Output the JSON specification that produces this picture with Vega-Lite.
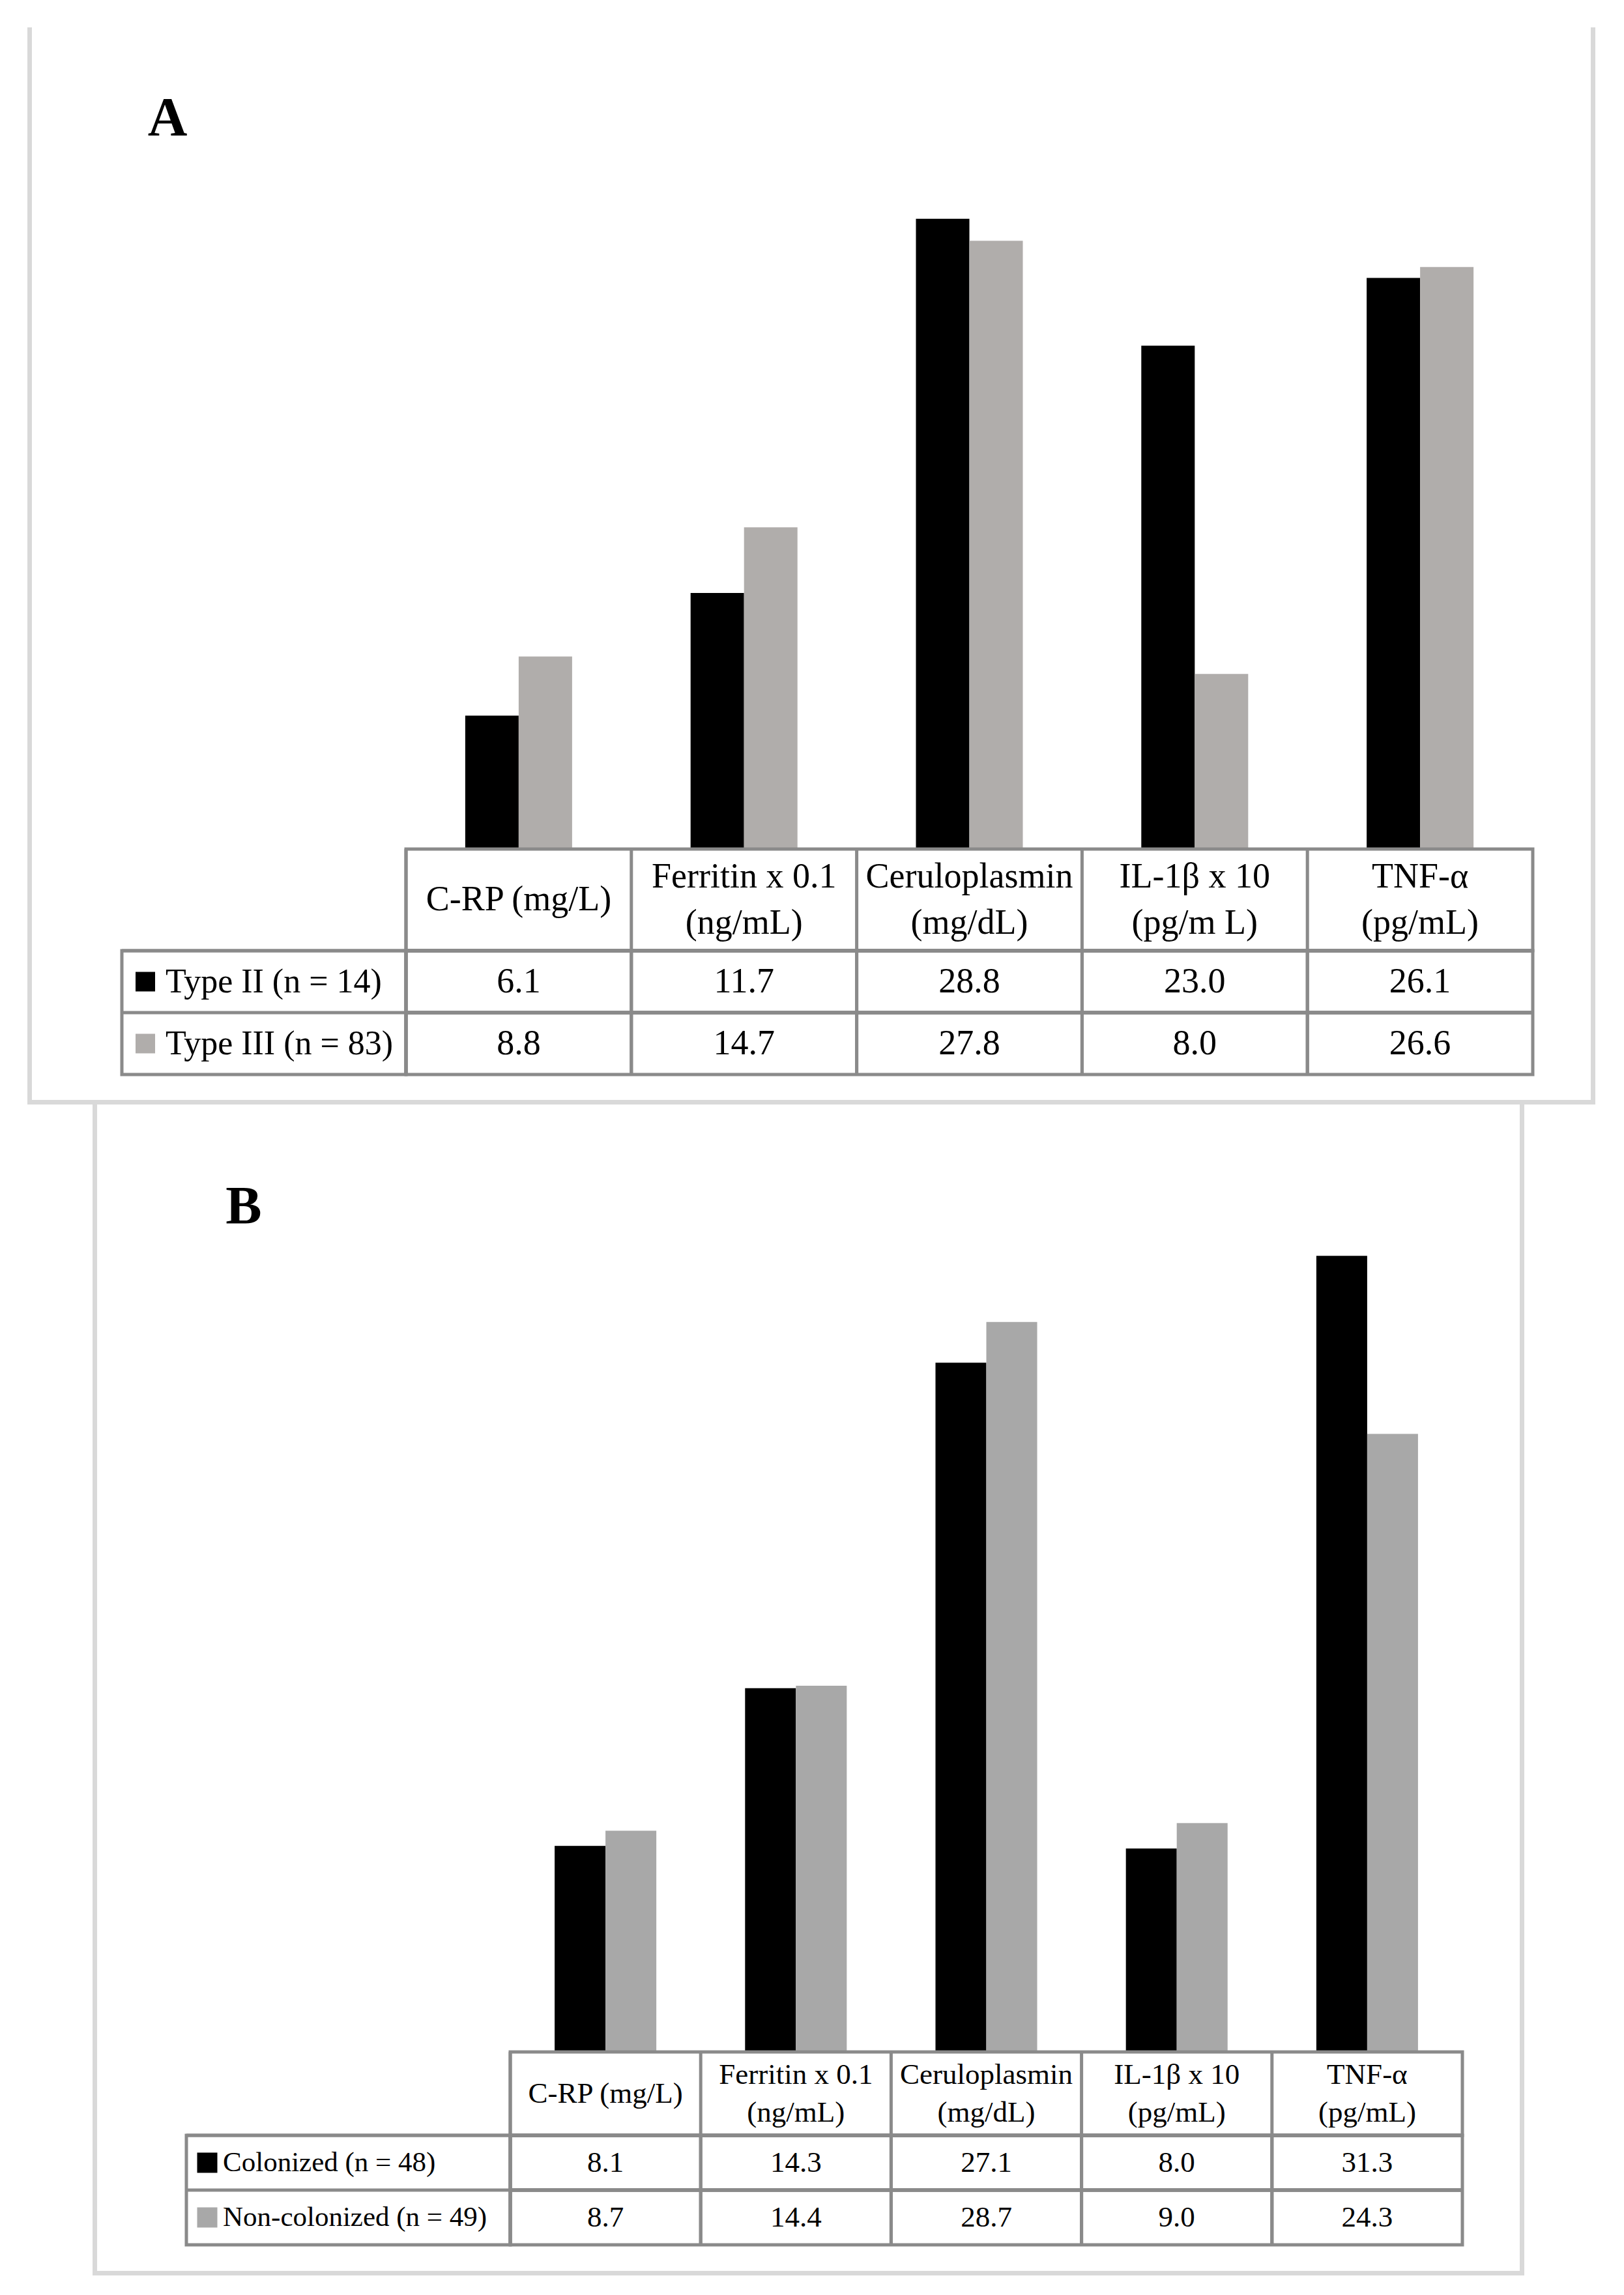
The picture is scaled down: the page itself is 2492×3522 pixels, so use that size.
{
  "$schema": "https://vega.github.io/schema/vega-lite/v6.json",
  "padding": {"left": 42, "top": 42, "right": 0, "bottom": 0},
  "background": "white",
  "config": {"view": {"stroke": null}, "font": "Liberation Serif", "concat": {"spacing": 0}},
  "datasets": {
    "A": [
      {"param": "C-RP (mg/L)", "group": "Type II (n = 14)", "value": 6.1},
      {"param": "C-RP (mg/L)", "group": "Type III (n = 83)", "value": 8.8},
      {"param": "Ferritin x 0.1\n(ng/mL)", "group": "Type II (n = 14)", "value": 11.7},
      {"param": "Ferritin x 0.1\n(ng/mL)", "group": "Type III (n = 83)", "value": 14.7},
      {"param": "Ceruloplasmin\n(mg/dL)", "group": "Type II (n = 14)", "value": 28.8},
      {"param": "Ceruloplasmin\n(mg/dL)", "group": "Type III (n = 83)", "value": 27.8},
      {"param": "IL-1β x 10\n(pg/m L)", "group": "Type II (n = 14)", "value": 23.0},
      {"param": "IL-1β x 10\n(pg/m L)", "group": "Type III (n = 83)", "value": 8.0},
      {"param": "TNF-α\n(pg/mL)", "group": "Type II (n = 14)", "value": 26.1},
      {"param": "TNF-α\n(pg/mL)", "group": "Type III (n = 83)", "value": 26.6}
    ],
    "B": [
      {"param": "C-RP (mg/L)", "group": "Colonized (n = 48)", "value": 8.1},
      {"param": "C-RP (mg/L)", "group": "Non-colonized (n = 49)", "value": 8.7},
      {"param": "Ferritin x 0.1\n(ng/mL)", "group": "Colonized (n = 48)", "value": 14.3},
      {"param": "Ferritin x 0.1\n(ng/mL)", "group": "Non-colonized (n = 49)", "value": 14.4},
      {"param": "Ceruloplasmin\n(mg/dL)", "group": "Colonized (n = 48)", "value": 27.1},
      {"param": "Ceruloplasmin\n(mg/dL)", "group": "Non-colonized (n = 49)", "value": 28.7},
      {"param": "IL-1β x 10\n(pg/mL)", "group": "Colonized (n = 48)", "value": 8.0},
      {"param": "IL-1β x 10\n(pg/mL)", "group": "Non-colonized (n = 49)", "value": 9.0},
      {"param": "TNF-α\n(pg/mL)", "group": "Colonized (n = 48)", "value": 31.3},
      {"param": "TNF-α\n(pg/mL)", "group": "Non-colonized (n = 49)", "value": 24.3}
    ]
  },
  "spacing": 0,
  "resolve": {"scale": {"color": "independent", "xOffset": "independent"}},
  "vconcat": [
    {
      "columns": 6, "spacing": 0, "bounds": "flush",
      "resolve": {"scale": {"color": "independent", "xOffset": "independent"}},
      "concat": [
        {"width": 7, "height": 1261, "data": {"values": []}, "mark": "point", "view": {"fill": "#d9d9d9", "stroke": null}},
        {"width": 138, "height": 1261, "data": {"values": []}, "mark": "point", "view": {"fill": "white", "stroke": null}},
        {"width": 140, "height": 332, "data": {"values": [{}]}, "mark": {"type": "text", "text": "A", "fontSize": 84, "fontWeight": "bold", "align": "center", "baseline": "alphabetic", "color": "#000000"}},
        {
          "width": 1729, "height": 1261,
          "data": {"name": "A"},
          "mark": {"type": "bar"},
          "encoding": {
            "x": {"field": "param", "type": "nominal", "sort": null, "axis": null, "scale": {"domain": ["C-RP (mg/L)", "Ferritin x 0.1\n(ng/mL)", "Ceruloplasmin\n(mg/dL)", "IL-1β x 10\n(pg/m L)", "TNF-α\n(pg/mL)"], "paddingInner": 0.5257, "paddingOuter": 0.2628}},
            "xOffset": {"field": "group", "type": "nominal", "scale": {"domain": ["Type II (n = 14)", "Type III (n = 83)"], "paddingInner": 0, "paddingOuter": 0}},
            "y": {"field": "value", "type": "quantitative", "axis": null, "scale": {"domain": [0, 37.55], "nice": false, "zero": true}},
            "color": {"field": "group", "type": "nominal", "legend": null, "scale": {"domain": ["Type II (n = 14)", "Type III (n = 83)"], "range": ["#000000", "#b0adab"]}}
          }
        },
        {"width": 89, "height": 1261, "data": {"values": []}, "mark": "point"},
        {"width": 7, "height": 1261, "data": {"values": []}, "mark": "point", "view": {"fill": "#d9d9d9", "stroke": null}},

        {"width": 7, "height": 156, "data": {"values": []}, "mark": "point", "view": {"fill": "#d9d9d9", "stroke": null}},
        {"width": 1, "height": 1, "data": {"values": []}, "mark": "point"},
        {"width": 436, "height": 156, "data": {"values": []}, "mark": "point"},
        {
          "width": 1729, "height": 156,
          "data": {"name": "A"},
          "transform": [{"filter": "datum.group === 'Type II (n = 14)'"}],
          "view": {"stroke": "#8a8a8a", "strokeWidth": 5},
          "layer": [
            {"mark": {"type": "rule", "color": "#8a8a8a", "strokeWidth": 5},
             "encoding": {"x": {"field": "param", "type": "nominal", "bandPosition": 0, "axis": null, "scale": {"type": "band", "domain": ["C-RP (mg/L)", "Ferritin x 0.1\n(ng/mL)", "Ceruloplasmin\n(mg/dL)", "IL-1β x 10\n(pg/m L)", "TNF-α\n(pg/mL)"], "paddingInner": 0, "paddingOuter": 0}}}},
            {"transform": [{"filter": "datum.param !== 'C-RP (mg/L)'"}],
             "mark": {"type": "text", "align": "center", "baseline": "middle", "fontSize": 54, "lineBreak": "\n", "lineHeight": 71, "dy": -35.5, "color": "#000000"},
             "encoding": {
               "x": {"field": "param", "type": "nominal", "axis": null, "scale": {"type": "band", "domain": ["C-RP (mg/L)", "Ferritin x 0.1\n(ng/mL)", "Ceruloplasmin\n(mg/dL)", "IL-1β x 10\n(pg/m L)", "TNF-α\n(pg/mL)"], "paddingInner": 0, "paddingOuter": 0}},
               "text": {"field": "param", "type": "nominal"}
             }},
            {"transform": [{"filter": "datum.param === 'C-RP (mg/L)'"}],
             "mark": {"type": "text", "align": "center", "baseline": "middle", "fontSize": 54, "color": "#000000"},
             "encoding": {
               "x": {"field": "param", "type": "nominal", "axis": null, "scale": {"type": "band", "domain": ["C-RP (mg/L)", "Ferritin x 0.1\n(ng/mL)", "Ceruloplasmin\n(mg/dL)", "IL-1β x 10\n(pg/m L)", "TNF-α\n(pg/mL)"], "paddingInner": 0, "paddingOuter": 0}},
               "text": {"field": "param", "type": "nominal"}
             }}
          ]
        },
        {"width": 1, "height": 1, "data": {"values": []}, "mark": "point"},
        {"width": 7, "height": 156, "data": {"values": []}, "mark": "point", "view": {"fill": "#d9d9d9", "stroke": null}},

        {"width": 7, "height": 190, "data": {"values": []}, "mark": "point", "view": {"fill": "#d9d9d9", "stroke": null}},
        {"width": 1, "height": 1, "data": {"values": []}, "mark": "point"},
        {
          "width": 436, "height": 190,
          "data": {"name": "A"},
          "transform": [{"filter": "datum.param === 'C-RP (mg/L)'"}],
          "view": {"stroke": "#8a8a8a", "strokeWidth": 5},
          "layer": [
            {"mark": {"type": "rule", "color": "#8a8a8a", "strokeWidth": 5},
             "encoding": {"y": {"field": "group", "type": "nominal", "bandPosition": 0, "axis": null, "scale": {"type": "band", "domain": ["Type II (n = 14)", "Type III (n = 83)"], "paddingInner": 0, "paddingOuter": 0}}}},
            {"mark": {"type": "point", "shape": "square", "size": 900, "filled": true, "opacity": 1},
             "encoding": {
               "x": {"datum": "label", "type": "nominal", "bandPosition": 0.0826, "axis": null, "scale": {"type": "band", "domain": ["label"], "paddingInner": 0, "paddingOuter": 0}},
               "y": {"field": "group", "type": "nominal", "axis": null, "scale": {"type": "band", "domain": ["Type II (n = 14)", "Type III (n = 83)"], "paddingInner": 0, "paddingOuter": 0}},
               "color": {"field": "group", "type": "nominal", "legend": null, "scale": {"domain": ["Type II (n = 14)", "Type III (n = 83)"], "range": ["#000000", "#b0adab"]}}
             }},
            {"mark": {"type": "text", "align": "left", "baseline": "middle", "fontSize": 52, "color": "#000000"},
             "encoding": {
               "x": {"datum": "label", "type": "nominal", "bandPosition": 0.1537, "axis": null, "scale": {"type": "band", "domain": ["label"], "paddingInner": 0, "paddingOuter": 0}},
               "y": {"field": "group", "type": "nominal", "axis": null, "scale": {"type": "band", "domain": ["Type II (n = 14)", "Type III (n = 83)"], "paddingInner": 0, "paddingOuter": 0}},
               "text": {"field": "group", "type": "nominal"}
             }}
          ]
        },
        {
          "width": 1729, "height": 190,
          "data": {"name": "A"},
          "view": {"stroke": "#8a8a8a", "strokeWidth": 5},
          "layer": [
            {"mark": {"type": "rule", "color": "#8a8a8a", "strokeWidth": 5},
             "encoding": {"x": {"field": "param", "type": "nominal", "bandPosition": 0, "axis": null, "scale": {"type": "band", "domain": ["C-RP (mg/L)", "Ferritin x 0.1\n(ng/mL)", "Ceruloplasmin\n(mg/dL)", "IL-1β x 10\n(pg/m L)", "TNF-α\n(pg/mL)"], "paddingInner": 0, "paddingOuter": 0}}}},
            {"mark": {"type": "rule", "color": "#8a8a8a", "strokeWidth": 5},
             "encoding": {"y": {"field": "group", "type": "nominal", "bandPosition": 0, "axis": null, "scale": {"type": "band", "domain": ["Type II (n = 14)", "Type III (n = 83)"], "paddingInner": 0, "paddingOuter": 0}}}},
            {"mark": {"type": "text", "align": "center", "baseline": "middle", "fontSize": 54, "color": "#000000"},
             "encoding": {
               "x": {"field": "param", "type": "nominal", "axis": null, "scale": {"type": "band", "domain": ["C-RP (mg/L)", "Ferritin x 0.1\n(ng/mL)", "Ceruloplasmin\n(mg/dL)", "IL-1β x 10\n(pg/m L)", "TNF-α\n(pg/mL)"], "paddingInner": 0, "paddingOuter": 0}},
               "y": {"field": "group", "type": "nominal", "axis": null, "scale": {"type": "band", "domain": ["Type II (n = 14)", "Type III (n = 83)"], "paddingInner": 0, "paddingOuter": 0}},
               "text": {"field": "value", "type": "quantitative", "format": ".1f"}
             }}
          ]
        },
        {"width": 1, "height": 1, "data": {"values": []}, "mark": "point"},
        {"width": 7, "height": 190, "data": {"values": []}, "mark": "point", "view": {"fill": "#d9d9d9", "stroke": null}},

        {"width": 7, "height": 39, "data": {"values": []}, "mark": "point", "view": {"fill": "#d9d9d9", "stroke": null}},
        {"width": 1, "height": 1, "data": {"values": []}, "mark": "point"},
        {"width": 1, "height": 1, "data": {"values": []}, "mark": "point"},
        {"width": 1, "height": 1, "data": {"values": []}, "mark": "point"},
        {"width": 1, "height": 1, "data": {"values": []}, "mark": "point"},
        {"width": 7, "height": 39, "data": {"values": []}, "mark": "point", "view": {"fill": "#d9d9d9", "stroke": null}},

        {"width": 7, "height": 7, "data": {"values": []}, "mark": "point", "view": {"fill": "#d9d9d9", "stroke": null}},
        {"width": 138, "height": 7, "data": {"values": []}, "mark": "point", "view": {"fill": "#d9d9d9", "stroke": null}},
        {"width": 436, "height": 7, "data": {"values": []}, "mark": "point", "view": {"fill": "#d9d9d9", "stroke": null}},
        {"width": 1729, "height": 7, "data": {"values": []}, "mark": "point", "view": {"fill": "#d9d9d9", "stroke": null}},
        {"width": 89, "height": 7, "data": {"values": []}, "mark": "point", "view": {"fill": "#d9d9d9", "stroke": null}},
        {"width": 7, "height": 7, "data": {"values": []}, "mark": "point", "view": {"fill": "#d9d9d9", "stroke": null}}
      ]
    },
    {
      "columns": 7, "spacing": 0, "bounds": "flush",
      "resolve": {"scale": {"color": "independent", "xOffset": "independent"}},
      "concat": [
        {"width": 100, "height": 1454, "data": {"values": []}, "mark": "point", "view": {"fill": "white", "stroke": null}},
        {"width": 7, "height": 1454, "data": {"values": []}, "mark": "point", "view": {"fill": "#d9d9d9", "stroke": null}},
        {"width": 137, "height": 1454, "data": {"values": []}, "mark": "point"},
        {"width": 176, "height": 364, "data": {"values": [{}]}, "mark": {"type": "text", "text": "B", "fontSize": 83, "fontWeight": "bold", "align": "center", "baseline": "alphabetic", "color": "#000000"}},
        {
          "width": 1461, "height": 1454,
          "data": {"name": "B"},
          "mark": {"type": "bar"},
          "encoding": {
            "x": {"field": "param", "type": "nominal", "sort": null, "axis": null, "scale": {"domain": ["C-RP (mg/L)", "Ferritin x 0.1\n(ng/mL)", "Ceruloplasmin\n(mg/dL)", "IL-1β x 10\n(pg/mL)", "TNF-α\n(pg/mL)"], "paddingInner": 0.466, "paddingOuter": 0.233}},
            "xOffset": {"field": "group", "type": "nominal", "scale": {"domain": ["Colonized (n = 48)", "Non-colonized (n = 49)"], "paddingInner": 0, "paddingOuter": 0}},
            "y": {"field": "value", "type": "quantitative", "axis": null, "scale": {"domain": [0, 37.25], "nice": false, "zero": true}},
            "color": {"field": "group", "type": "nominal", "legend": null, "scale": {"domain": ["Colonized (n = 48)", "Non-colonized (n = 49)"], "range": ["#000000", "#a8a8a8"]}}
          }
        },
        {"width": 88, "height": 1454, "data": {"values": []}, "mark": "point"},
        {"width": 7, "height": 1454, "data": {"values": []}, "mark": "point", "view": {"fill": "#d9d9d9", "stroke": null}},

        {"width": 1, "height": 1, "data": {"values": []}, "mark": "point"},
        {"width": 7, "height": 128, "data": {"values": []}, "mark": "point", "view": {"fill": "#d9d9d9", "stroke": null}},
        {"width": 1, "height": 1, "data": {"values": []}, "mark": "point"},
        {"width": 497, "height": 128, "data": {"values": []}, "mark": "point"},
        {
          "width": 1461, "height": 128,
          "data": {"name": "B"},
          "transform": [{"filter": "datum.group === 'Colonized (n = 48)'"}],
          "view": {"stroke": "#8a8a8a", "strokeWidth": 5},
          "layer": [
            {"mark": {"type": "rule", "color": "#8a8a8a", "strokeWidth": 5},
             "encoding": {"x": {"field": "param", "type": "nominal", "bandPosition": 0, "axis": null, "scale": {"type": "band", "domain": ["C-RP (mg/L)", "Ferritin x 0.1\n(ng/mL)", "Ceruloplasmin\n(mg/dL)", "IL-1β x 10\n(pg/mL)", "TNF-α\n(pg/mL)"], "paddingInner": 0, "paddingOuter": 0}}}},
            {"transform": [{"filter": "datum.param !== 'C-RP (mg/L)'"}],
             "mark": {"type": "text", "align": "center", "baseline": "middle", "fontSize": 45, "lineBreak": "\n", "lineHeight": 58, "dy": -29, "color": "#000000"},
             "encoding": {
               "x": {"field": "param", "type": "nominal", "axis": null, "scale": {"type": "band", "domain": ["C-RP (mg/L)", "Ferritin x 0.1\n(ng/mL)", "Ceruloplasmin\n(mg/dL)", "IL-1β x 10\n(pg/mL)", "TNF-α\n(pg/mL)"], "paddingInner": 0, "paddingOuter": 0}},
               "text": {"field": "param", "type": "nominal"}
             }},
            {"transform": [{"filter": "datum.param === 'C-RP (mg/L)'"}],
             "mark": {"type": "text", "align": "center", "baseline": "middle", "fontSize": 45, "color": "#000000"},
             "encoding": {
               "x": {"field": "param", "type": "nominal", "axis": null, "scale": {"type": "band", "domain": ["C-RP (mg/L)", "Ferritin x 0.1\n(ng/mL)", "Ceruloplasmin\n(mg/dL)", "IL-1β x 10\n(pg/mL)", "TNF-α\n(pg/mL)"], "paddingInner": 0, "paddingOuter": 0}},
               "text": {"field": "param", "type": "nominal"}
             }}
          ]
        },
        {"width": 1, "height": 1, "data": {"values": []}, "mark": "point"},
        {"width": 7, "height": 128, "data": {"values": []}, "mark": "point", "view": {"fill": "#d9d9d9", "stroke": null}},

        {"width": 1, "height": 1, "data": {"values": []}, "mark": "point"},
        {"width": 7, "height": 168, "data": {"values": []}, "mark": "point", "view": {"fill": "#d9d9d9", "stroke": null}},
        {"width": 1, "height": 1, "data": {"values": []}, "mark": "point"},
        {
          "width": 497, "height": 168,
          "data": {"name": "B"},
          "transform": [{"filter": "datum.param === 'C-RP (mg/L)'"}],
          "view": {"stroke": "#8a8a8a", "strokeWidth": 5},
          "layer": [
            {"mark": {"type": "rule", "color": "#8a8a8a", "strokeWidth": 5},
             "encoding": {"y": {"field": "group", "type": "nominal", "bandPosition": 0, "axis": null, "scale": {"type": "band", "domain": ["Colonized (n = 48)", "Non-colonized (n = 49)"], "paddingInner": 0, "paddingOuter": 0}}}},
            {"mark": {"type": "point", "shape": "square", "size": 961, "filled": true, "opacity": 1},
             "encoding": {
               "x": {"datum": "label", "type": "nominal", "bandPosition": 0.0644, "axis": null, "scale": {"type": "band", "domain": ["label"], "paddingInner": 0, "paddingOuter": 0}},
               "y": {"field": "group", "type": "nominal", "axis": null, "scale": {"type": "band", "domain": ["Colonized (n = 48)", "Non-colonized (n = 49)"], "paddingInner": 0, "paddingOuter": 0}},
               "color": {"field": "group", "type": "nominal", "legend": null, "scale": {"domain": ["Colonized (n = 48)", "Non-colonized (n = 49)"], "range": ["#000000", "#a8a8a8"]}}
             }},
            {"mark": {"type": "text", "align": "left", "baseline": "middle", "fontSize": 43, "color": "#000000"},
             "encoding": {
               "x": {"datum": "label", "type": "nominal", "bandPosition": 0.1127, "axis": null, "scale": {"type": "band", "domain": ["label"], "paddingInner": 0, "paddingOuter": 0}},
               "y": {"field": "group", "type": "nominal", "axis": null, "scale": {"type": "band", "domain": ["Colonized (n = 48)", "Non-colonized (n = 49)"], "paddingInner": 0, "paddingOuter": 0}},
               "text": {"field": "group", "type": "nominal"}
             }}
          ]
        },
        {
          "width": 1461, "height": 168,
          "data": {"name": "B"},
          "view": {"stroke": "#8a8a8a", "strokeWidth": 5},
          "layer": [
            {"mark": {"type": "rule", "color": "#8a8a8a", "strokeWidth": 5},
             "encoding": {"x": {"field": "param", "type": "nominal", "bandPosition": 0, "axis": null, "scale": {"type": "band", "domain": ["C-RP (mg/L)", "Ferritin x 0.1\n(ng/mL)", "Ceruloplasmin\n(mg/dL)", "IL-1β x 10\n(pg/mL)", "TNF-α\n(pg/mL)"], "paddingInner": 0, "paddingOuter": 0}}}},
            {"mark": {"type": "rule", "color": "#8a8a8a", "strokeWidth": 5},
             "encoding": {"y": {"field": "group", "type": "nominal", "bandPosition": 0, "axis": null, "scale": {"type": "band", "domain": ["Colonized (n = 48)", "Non-colonized (n = 49)"], "paddingInner": 0, "paddingOuter": 0}}}},
            {"mark": {"type": "text", "align": "center", "baseline": "middle", "fontSize": 45, "color": "#000000"},
             "encoding": {
               "x": {"field": "param", "type": "nominal", "axis": null, "scale": {"type": "band", "domain": ["C-RP (mg/L)", "Ferritin x 0.1\n(ng/mL)", "Ceruloplasmin\n(mg/dL)", "IL-1β x 10\n(pg/mL)", "TNF-α\n(pg/mL)"], "paddingInner": 0, "paddingOuter": 0}},
               "y": {"field": "group", "type": "nominal", "axis": null, "scale": {"type": "band", "domain": ["Colonized (n = 48)", "Non-colonized (n = 49)"], "paddingInner": 0, "paddingOuter": 0}},
               "text": {"field": "value", "type": "quantitative", "format": ".1f"}
             }}
          ]
        },
        {"width": 1, "height": 1, "data": {"values": []}, "mark": "point"},
        {"width": 7, "height": 168, "data": {"values": []}, "mark": "point", "view": {"fill": "#d9d9d9", "stroke": null}},

        {"width": 1, "height": 1, "data": {"values": []}, "mark": "point"},
        {"width": 7, "height": 40, "data": {"values": []}, "mark": "point", "view": {"fill": "#d9d9d9", "stroke": null}},
        {"width": 1, "height": 1, "data": {"values": []}, "mark": "point"},
        {"width": 1, "height": 1, "data": {"values": []}, "mark": "point"},
        {"width": 1, "height": 1, "data": {"values": []}, "mark": "point"},
        {"width": 1, "height": 1, "data": {"values": []}, "mark": "point"},
        {"width": 7, "height": 40, "data": {"values": []}, "mark": "point", "view": {"fill": "#d9d9d9", "stroke": null}},

        {"width": 1, "height": 1, "data": {"values": []}, "mark": "point"},
        {"width": 7, "height": 7, "data": {"values": []}, "mark": "point", "view": {"fill": "#d9d9d9", "stroke": null}},
        {"width": 137, "height": 7, "data": {"values": []}, "mark": "point", "view": {"fill": "#d9d9d9", "stroke": null}},
        {"width": 497, "height": 7, "data": {"values": []}, "mark": "point", "view": {"fill": "#d9d9d9", "stroke": null}},
        {"width": 1461, "height": 7, "data": {"values": []}, "mark": "point", "view": {"fill": "#d9d9d9", "stroke": null}},
        {"width": 88, "height": 7, "data": {"values": []}, "mark": "point", "view": {"fill": "#d9d9d9", "stroke": null}},
        {"width": 7, "height": 7, "data": {"values": []}, "mark": "point", "view": {"fill": "#d9d9d9", "stroke": null}}
      ]
    }
  ]
}
